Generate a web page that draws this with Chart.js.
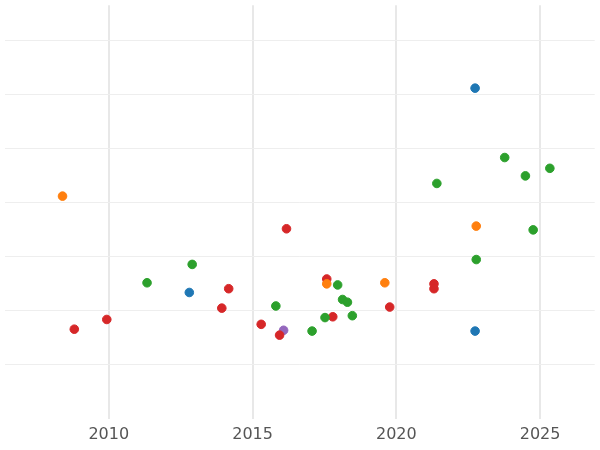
<!DOCTYPE html><html><head><script src="https://cdn.jsdelivr.net/npm/chart.js@4"></script>
<style>body{margin:0}#w{width:600px;height:450px}</style></head><body><div id="w"><canvas id="c"></canvas></div>
<script>
const blueX=[2022.74,2012.80,2022.74], blueY=[5.125,1.34,0.625];
const orangeX=[2008.39,2022.78,2017.58,2019.60], orangeY=[3.125,2.57,1.5,1.52];
const greenX=[2021.41,2023.77,2024.49,2025.34,2024.76,2022.78,2011.33,2012.90,2015.81,2017.07,2017.52,2017.96,2018.13,2018.30,2018.47];
const greenY=[3.36,3.84,3.5,3.64,2.5,1.95,1.52,1.86,1.09,0.625,0.875,1.48,1.21,1.16,0.91];
const redX=[2008.80,2009.93,2013.93,2014.17,2015.30,2015.94,2016.18,2017.58,2017.79,2019.77,2021.31,2021.31];
const redY=[0.66,0.84,1.05,1.41,0.75,0.55,2.52,1.59,0.89,1.07,1.5,1.41];
const purpleX=[2016.08], purpleY=[0.64];
const mk=(xs,ys,c)=>({data:xs.map((x,i)=>({x,y:ys[i]})),backgroundColor:c,borderColor:c,pointRadius:4.3,pointHoverRadius:4.3});
new Chart(document.getElementById('c'),{type:'scatter',data:{datasets:[
mk(blueX,blueY,'#1f77b4'),mk(orangeX,orangeY,'#ff7f0e'),mk(greenX,greenY,'#2ca02c'),mk(redX,redY,'#d62728'),mk(purpleX,purpleY,'#9467bd')]},
options:{responsive:true,maintainAspectRatio:false,animation:false,layout:{padding:{left:-6,right:-6,top:-6,bottom:0}},
plugins:{legend:{display:false},tooltip:{enabled:false}},
scales:{x:{min:2006.4,max:2026.9,afterBuildTicks:a=>{a.ticks=[2010,2015,2020,2025].map(v=>({value:v}));},
ticks:{color:'#555',font:{size:16,family:'DejaVu Sans'},padding:6,callback:v=>String(v)},grid:{color:'#e8e8e8',lineWidth:2,drawTicks:false},border:{display:false}},
y:{min:-1,max:6.66,afterBuildTicks:a=>{a.ticks=[0,1,2,3,4,5,6].map(v=>({value:v}));},ticks:{display:false},grid:{color:'#eeeeee',drawTicks:false},border:{display:false}}}}});
</script></body></html>
